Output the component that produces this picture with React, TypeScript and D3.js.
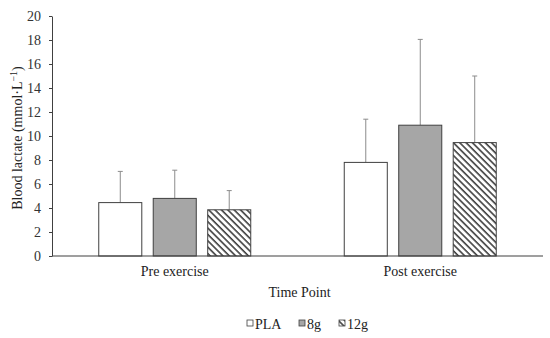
import React, { useEffect, useRef } from "react";
import * as d3 from "d3";

const timePoints = ["Pre exercise", "Post exercise"];
const groups = ["PLA", "8g", "12g"];
const means = [
  [4.45, 4.8, 3.85],
  [7.8, 10.9, 9.45],
];
const sds = [
  [2.6, 2.35, 1.6],
  [3.6, 7.15, 5.55],
];
const yTicks = [0, 2, 4, 6, 8, 10, 12, 14, 16, 18, 20];

const App = () => {
  const ref = useRef<SVGSVGElement>(null);

  useEffect(() => {
    if (!ref.current) return;
    const svg = d3.select(ref.current);
    svg.selectAll("*").remove();

    const width = 550;
    const height = 338;
    const margin = { top: 16, right: 7, bottom: 82, left: 52 };
    const font = "'Liberation Serif', 'Times New Roman', serif";
    const groupWidth = 152;

    // hatch pattern for 12g
    const defs = svg.append("defs");
    const pat = defs
      .append("pattern")
      .attr("id", "hatch")
      .attr("patternUnits", "userSpaceOnUse")
      .attr("width", 4.5)
      .attr("height", 4.5)
      .attr("patternTransform", "rotate(45)");
    pat.append("rect").attr("width", 4.5).attr("height", 4.5).attr("fill", "#fff");
    pat
      .append("line")
      .attr("x1", 0)
      .attr("y1", 0)
      .attr("x2", 4.5)
      .attr("y2", 0)
      .attr("stroke", "#404040")
      .attr("stroke-width", 3.2);

    const fills = ["#ffffff", "#a6a6a6", "url(#hatch)"];

    const x0 = d3
      .scaleBand()
      .domain(timePoints)
      .range([margin.left, width - margin.right]);
    const x1 = d3
      .scaleBand()
      .domain(groups)
      .range([0, groupWidth])
      .paddingInner(0.21);
    const y = d3
      .scaleLinear()
      .domain([0, 20])
      .range([height - margin.bottom, margin.top]);

    // y axis
    const yAxis = svg
      .append("g")
      .attr("transform", `translate(${margin.left},0)`)
      .call(d3.axisLeft(y).tickValues(yTicks).tickSize(3).tickSizeOuter(0));
    yAxis.select(".domain").attr("stroke", "#404040");
    yAxis.selectAll("line").attr("stroke", "#404040");
    yAxis
      .selectAll("text")
      .attr("font-family", font)
      .attr("font-size", 14)
      .attr("fill", "#333")
      .attr("x", -11);

    // bars
    timePoints.forEach((tp, i) => {
      const gx = x0(tp)! + (x0.bandwidth() - groupWidth) / 2;
      groups.forEach((g, j) => {
        const bx = gx + x1(g)!;
        const bw = x1.bandwidth();
        const cx = bx + bw / 2;
        const top = means[i][j] + sds[i][j];
        // error bar
        svg
          .append("line")
          .attr("x1", cx)
          .attr("x2", cx)
          .attr("y1", y(means[i][j]))
          .attr("y2", y(top))
          .attr("stroke", "#8c8c8c")
          .attr("stroke-width", 1);
        svg
          .append("line")
          .attr("x1", cx - 2.5)
          .attr("x2", cx + 2.5)
          .attr("y1", y(top))
          .attr("y2", y(top))
          .attr("stroke", "#8c8c8c")
          .attr("stroke-width", 1);
        svg
          .append("rect")
          .attr("x", bx)
          .attr("y", y(means[i][j]))
          .attr("width", bw)
          .attr("height", y(0) - y(means[i][j]))
          .attr("fill", fills[j])
          .attr("stroke", "#404040")
          .attr("stroke-width", 1);
      });
      svg
        .append("text")
        .attr("x", x0(tp)! + x0.bandwidth() / 2)
        .attr("y", y(0) + 20)
        .attr("text-anchor", "middle")
        .attr("font-family", font)
        .attr("font-size", 14)
        .attr("fill", "#222")
        .text(tp);
    });

    // x axis line
    svg
      .append("line")
      .attr("x1", margin.left)
      .attr("x2", width - margin.right)
      .attr("y1", y(0))
      .attr("y2", y(0))
      .attr("stroke", "#404040")
      .attr("stroke-width", 1.2);

    // axis titles
    svg
      .append("text")
      .attr("x", (margin.left + width - margin.right) / 2 + 2)
      .attr("y", 297)
      .attr("text-anchor", "middle")
      .attr("font-family", font)
      .attr("font-size", 14)
      .attr("fill", "#222")
      .text("Time Point");

    const yt = svg
      .append("text")
      .attr("transform", `translate(22,${(y(0) + y(20)) / 2 + 2}) rotate(-90)`)
      .attr("text-anchor", "middle")
      .attr("font-family", font)
      .attr("font-size", 14)
      .attr("fill", "#222");
    yt.append("tspan").text("Blood lactate (mmol·L");
    yt.append("tspan").attr("baseline-shift", "super").attr("font-size", 10).text("−1");
    yt.append("tspan").text(")");

    // legend
    const legendX = [247, 299, 339];
    groups.forEach((g, j) => {
      svg
        .append("rect")
        .attr("x", legendX[j])
        .attr("y", 320)
        .attr("width", 6)
        .attr("height", 6)
        .attr("fill", fills[j])
        .attr("stroke", "#404040")
        .attr("stroke-width", 0.8);
      svg
        .append("text")
        .attr("x", legendX[j] + 8)
        .attr("y", 328.5)
        .attr("font-family", font)
        .attr("font-size", 14)
        .attr("fill", "#222")
        .text(g);
    });
  }, []);

  return (
    <svg
      ref={ref}
      width={550}
      height={338}
      style={{ position: "absolute", left: 0, top: 0, background: "#fff" }}
    />
  );
};

export default App;
